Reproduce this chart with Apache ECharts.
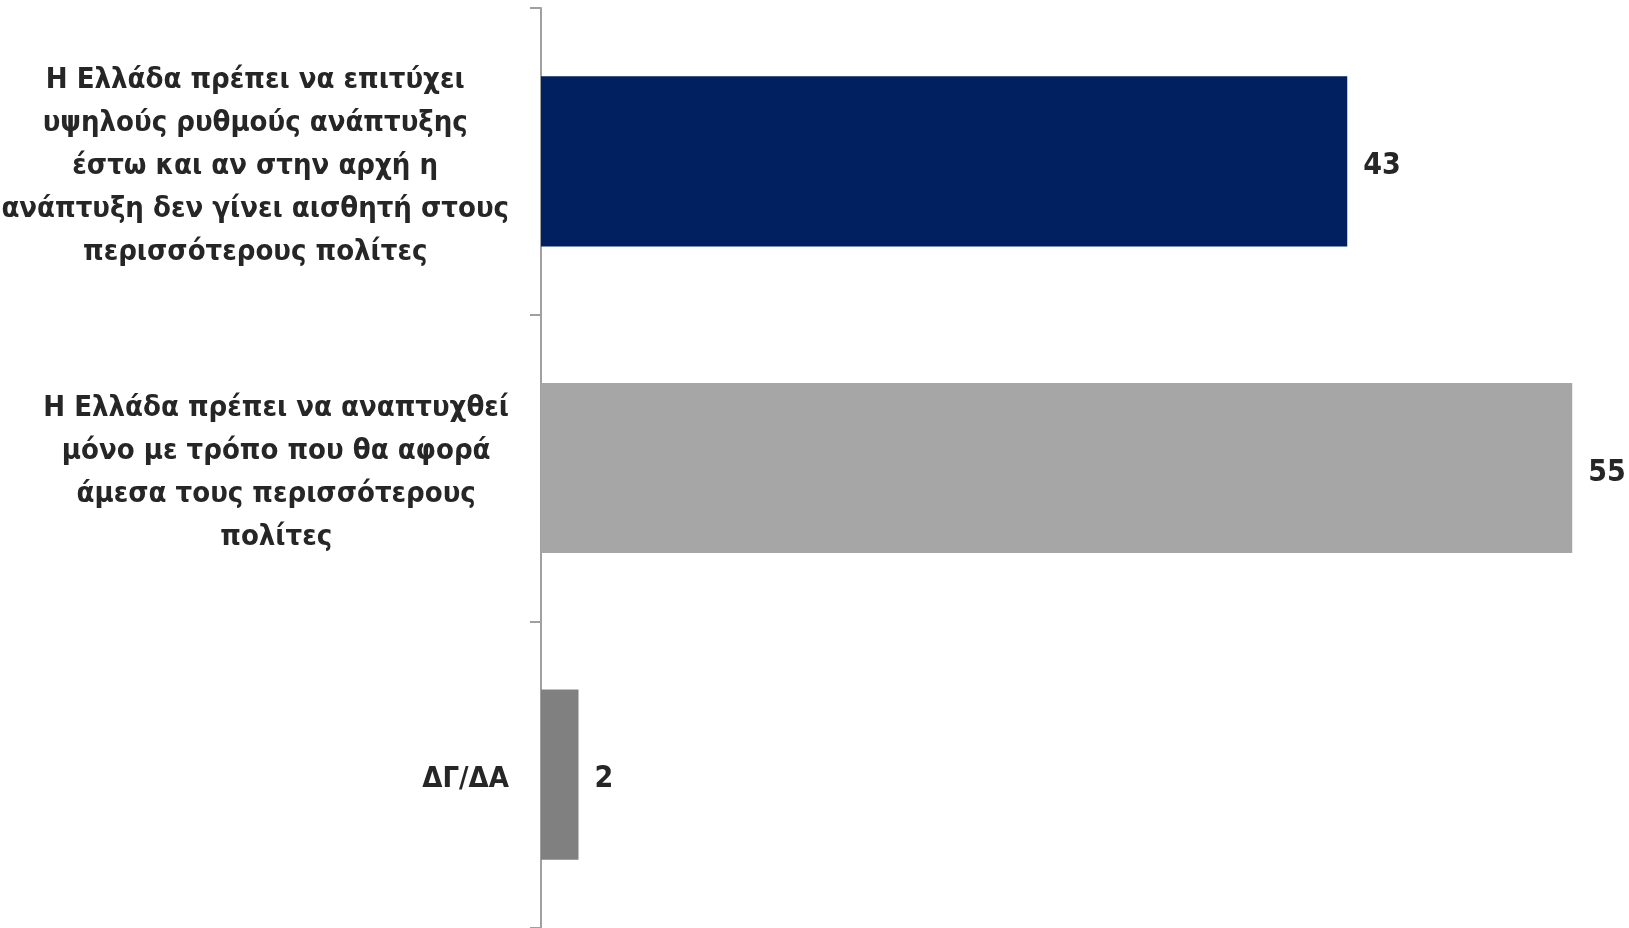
<!DOCTYPE html>
<html>
<head>
<meta charset="utf-8">
<script src="https://cdn.jsdelivr.net/npm/echarts@6/dist/echarts.min.js"></script>
<style>
html,body{margin:0;padding:0;background:#fff;}
#chart{width:1629px;height:928px;}
</style>
</head>
<body>
<div id="chart"></div>
<script>
const categories = [
  "Η Ελλάδα πρέπει να επιτύχει\nυψηλούς ρυθμούς ανάπτυξης\nέστω και αν στην αρχή η\nανάπτυξη δεν γίνει αισθητή στους\nπερισσότερους πολίτες",
  "Η Ελλάδα πρέπει να αναπτυχθεί\nμόνο με τρόπο που θα αφορά\nάμεσα τους περισσότερους\nπολίτες",
  "ΔΓ/ΔΑ"
];
const values = [43, 55, 2];
const barColors = ["#002060", "#A6A6A6", "#808080"];

const FONT = "'DejaVu Sans Condensed', 'Liberation Sans Narrow', sans-serif";
const chart = echarts.init(document.getElementById('chart'));
chart.setOption({
  animation: false,
  grid: { left: 541, right: 38, top: 8, bottom: 0, containLabel: false, outerBoundsMode: 'none' },
  xAxis: {
    type: 'value', min: 0, max: 56,
    show: false
  },
  yAxis: {
    type: 'category',
    inverse: true,
    data: categories,
    axisLine: { show: true, lineStyle: { color: '#A0A0A0', width: 2 } },
    axisTick: { show: true, length: 11, lineStyle: { color: '#A0A0A0', width: 2 } },
    axisLabel: {
      margin: 32,
      align: 'right',
      padding: [10, 0, 0, 0],
      formatter: function (v) {
        return v.split('\n').map(function (l) { return '{c|' + l + '}'; }).join('\n');
      },
      rich: {
        c: {
          align: 'center',
          fontFamily: FONT,
          fontWeight: 'bold',
          fontSize: 29,
          lineHeight: 43,
          color: '#262626'
        }
      }
    },
    splitLine: { show: false }
  },
  series: [{
    type: 'bar',
    barWidth: '55.5%',
    data: values.map(function (v, i) { return { value: v, itemStyle: { color: barColors[i] } }; }),
    label: {
      show: true,
      position: 'right',
      distance: 16,
      offset: [0, 5],
      fontFamily: FONT,
      fontWeight: 'bold',
      fontSize: 30,
      color: '#262626'
    }
  }]
});
</script>
</body>
</html>
